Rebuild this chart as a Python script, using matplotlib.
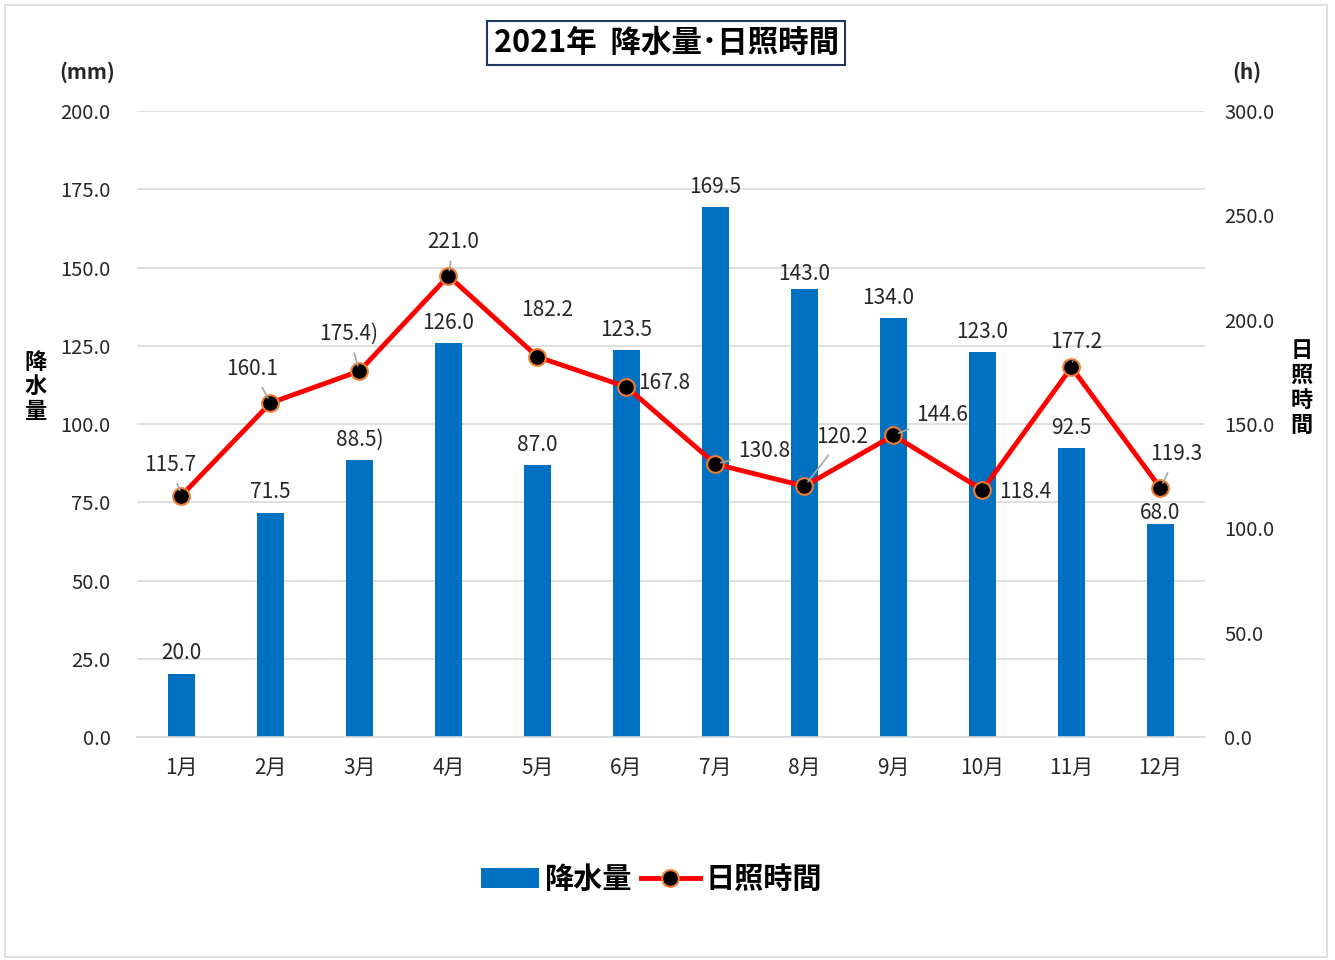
import numpy as np
import matplotlib.pyplot as plt
from matplotlib.patches import Rectangle

plt.rcParams['font.family'] = ['Noto Sans CJK JP', 'DejaVu Sans']

months = ['1月', '2月', '3月', '4月', '5月', '6月', '7月', '8月', '9月', '10月', '11月', '12月']
rain = [20.0, 71.5, 88.5, 126.0, 87.0, 123.5, 169.5, 143.0, 134.0, 123.0, 92.5, 68.0]
sun = [115.7, 160.1, 175.4, 221.0, 182.2, 167.8, 130.8, 120.2, 144.6, 118.4, 177.2, 119.3]
rain_labels = ['20.0', '71.5', '88.5)', '126.0', '87.0', '123.5', '169.5', '143.0', '134.0', '123.0', '92.5', '68.0']
sun_labels = ['115.7', '160.1', '175.4)', '221.0', '182.2', '167.8', '130.8', '120.2', '144.6', '118.4', '177.2', '119.3']

# label offsets (pixels) for the labels, and whether a leader line is drawn
rain_off = [(0, 21), (0, 21), (0, 20), (0, 20), (0, 20), (0, 20), (0, 20), (0, 15), (-5, 20), (0, 20), (0, 20), (0, 11)]
sun_off = [(-11, 31), (-18, 34), (-11, 37), (5, 34), (10, 47), (38, 4), (49, 13), (38, 49), (49, 20), (43, -2), (5, 25), (16, 34)]
sun_leader = [True, True, True, True, False, False, True, True, True, False, True, True]

x = np.arange(len(months))

fig = plt.figure(figsize=(13.35, 9.6), dpi=100)
fig.patches.append(Rectangle((0.004, 0.003), 0.99, 0.992, transform=fig.transFigure,
                             fill=False, edgecolor='#D9D9D9', linewidth=1.2))

ax = fig.add_axes([0.1026, 0.2323, 0.8, 0.652])
ax2 = ax.twinx()

bars = ax.bar(x, rain, width=0.31, color='#0070C0', zorder=2, label='降水量')
ax.set_ylim(0, 200)
ax.set_xlim(-0.5, 11.5)
ax.set_yticks(np.arange(0, 201, 25))
ax.set_yticklabels([f'{v:.1f}' for v in np.arange(0, 201, 25)])
ax.grid(axis='y', color='#D9D9D9', linewidth=1.2, zorder=0)
ax.set_axisbelow(True)
ax.set_xticks(x)
ax.set_xticklabels(months)
ax.tick_params(axis='y', length=0, pad=19, labelsize=14.5, labelcolor='#262626')
ax.tick_params(axis='x', length=0, pad=14, labelsize=15, labelcolor='#262626')
for s in ax.spines.values():
    s.set_visible(False)
ax.spines['bottom'].set_visible(True)
ax.spines['bottom'].set_color('#D9D9D9')
ax.spines['bottom'].set_linewidth(1.2)

line, = ax2.plot(x, sun, color='#FF0000', linewidth=3.5, marker='o', markersize=12,
                 markerfacecolor='black', markeredgecolor='#ED7D31', markeredgewidth=1.5,
                 zorder=5, label='日照時間')
ax2.set_ylim(0, 300)
ax2.set_yticks(np.arange(0, 301, 50))
ax2.set_yticklabels([f'{v:.1f}' for v in np.arange(0, 301, 50)])
ax2.tick_params(axis='y', length=0, pad=14, labelsize=14.5, labelcolor='#262626')
for s in ax2.spines.values():
    s.set_visible(False)

for i, v in enumerate(rain):
    dx, dy = rain_off[i]
    ax.annotate(rain_labels[i], (x[i], v), xytext=(dx, dy), textcoords='offset pixels',
                ha='center', va='center', fontsize=15, color='#262626', zorder=6)

for i, v in enumerate(sun):
    dx, dy = sun_off[i]
    props = dict(arrowstyle='-', color='#A6A6A6', lw=1.2, shrinkA=4, shrinkB=4) if sun_leader[i] else None
    ax2.annotate(sun_labels[i], (x[i], v), xytext=(dx, dy), textcoords='offset pixels',
                 ha='center', va='center', fontsize=15, color='#262626', zorder=6,
                 arrowprops=props)

fig.text(0.499, 0.955, '2021年  降水量･日照時間', ha='center', va='center', fontsize=22,
         fontweight='bold', color='black',
         bbox=dict(boxstyle='square,pad=0.2', facecolor='white', edgecolor='#1F3864', linewidth=1.5))
fig.text(0.065, 0.925, '(mm)', ha='center', va='center', fontsize=15, fontweight='bold', color='#262626')
fig.text(0.934, 0.925, '(h)', ha='center', va='center', fontsize=15, fontweight='bold', color='#262626')
fig.text(0.027, 0.597, '降\n水\n量', ha='center', va='center', fontsize=16, fontweight='bold',
         linespacing=1.1)
fig.text(0.975, 0.596, '日\n照\n時\n間', ha='center', va='center', fontsize=16, fontweight='bold',
         linespacing=1.1)

fig.legend([bars, line], ['降水量', '日照時間'], loc='center', bbox_to_anchor=(0.488, 0.084),
           ncol=2, frameon=False, prop={'size': 21, 'weight': 'bold'}, handlelength=2.0,
           columnspacing=0.3, handletextpad=0.2)

fig.savefig('out.png', dpi=100)
